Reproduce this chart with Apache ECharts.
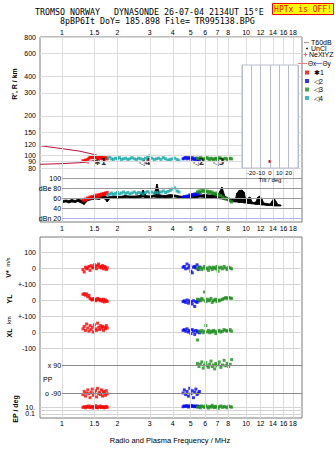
<!DOCTYPE html>
<html>
<head>
<meta charset="utf-8">
<title>Dynasonde ionogram</title>
<script src="https://cdn.jsdelivr.net/npm/echarts@6.0.0/dist/echarts.min.js"></script>
<style>
  html, body { margin: 0; padding: 0; background: #fff; }
  #chart { width: 335px; height: 451px; }
</style>
</head>
<body>
<div id="chart"></div>
<script>
// tick labels
const freqTicks = [1, 1.5, 2, 3, 4, 5, 6, 7, 8, 10, 12, 14, 16, 18];
const rangeTicks = [80, 90, 100, 120, 150, 200, 300, 400, 600, 800];
const ampTicks = [100, 80, 60, 40, 20];
const ampTickLabels = ['100', 'dBe 80', '60', '40', 'dBn 20'];
const ppTicks = [90, -90];
const ppTickLabels = ['x 90', 'o -90'];

// model curves (dark red)
const modelUpF = [0.76, 1.0, 1.25, 1.45, 1.6, 1.73];
const modelUpR = [118.4, 112.5, 107.5, 102.5, 99, 95.9];
const modelLoF = [0.76, 1.0, 1.25, 1.45, 1.6, 1.73];
const modelLoR = [85.4, 86.4, 87.8, 90.5, 93, 95.9];

// echo 1 (red)
const redF = [1.30, 1.32, 1.34, 1.36, 1.38, 1.40, 1.42, 1.44, 1.46, 1.48, 1.50, 1.52, 1.54, 1.56, 1.58, 1.60, 1.62, 1.64, 1.66, 1.68, 1.70, 1.72, 1.74, 1.76];
const redRange = [91, 90, 92, 91, 93, 95, 97, 96, 98, 96, 97, 98, 96, 95, 96, 97, 95, 97, 94, 96, 93, 95, 96, 94];
const redAmp = [56, 54, 58, 57, 60, 59, 62, 60, 63, 61, 64, 62, 66, 63, 65, 67, 64, 68, 66, 69, 67, 70, 68, 71];
const redVel = [-10, -25, 5, -5, 0, 10, -15, 15, 5, 0, 20, 10, -5, 15, 25, 5, 10, 0, 15, -5, 10, 5, -10, 0];
const redYL = [35, 40, 30, 38, 20, 28, 10, 5, 0, 8, 5, -5, 0, 10, 5, 0, -5, 3, -8, 5, -12, 0, -5, -10];
const redXL = [20, 35, 10, 50, 25, 5, 40, 15, 30, 0, 45, 20, 10, 55, 30, 15, 40, 25, 35, 10, 30, 20, 40, 25];
const redPP = [-100, -80, -110, -90, -70, -95, -120, -85, -65, -105, -90, -75, -115, -60, -95, -85, -100, -70, -110, -80, -90, -105, -75, -95];
const redEP = [8, 12, 6, 15, 9, 20, 7, 10, 14, 5, 11, 25, 8, 6, 13, 9, 18, 7, 10, 12, 6, 9, 15, 8];

// echo 4 (cyan)
const cyanF = [1.78, 1.82, 1.86, 1.90, 1.95, 2.00, 2.05, 2.10, 2.16, 2.22, 2.28, 2.34, 2.40, 2.47, 2.54, 2.61, 2.68, 2.76, 2.84, 2.92, 3.00, 3.08, 3.17, 3.26, 3.35, 3.45, 3.55, 3.65, 3.76, 3.87, 3.98, 4.10, 4.22, 4.32];
const cyanRange = [95, 98, 94, 93, 95, 94, 96, 93, 94, 95, 93, 94, 96, 94, 93, 95, 94, 93, 95, 97, 99, 95, 93, 94, 95, 93, 96, 94, 92, 93, 94, 95, 93, 91];
const cyanAmp = [66, 68, 70, 67, 69, 71, 68, 70, 72, 69, 71, 68, 70, 72, 69, 71, 70, 68, 71, 73, 70, 72, 69, 71, 70, 72, 74, 71, 73, 75, 78, 80, 74, 72];

// echo 2 (blue)
const blueF = [4.55, 4.62, 4.70, 4.78, 4.86, 4.94, 5.02, 5.10, 5.18, 5.26, 5.34, 5.42, 5.50, 5.58];
const blueRange = [94, 95, 97, 94, 96, 95, 93, 96, 94, 92, 95, 93, 94, 92];
const blueAmp = [61, 63, 62, 64, 63, 66, 65, 67, 66, 68, 67, 69, 68, 70];
const blueVel = [5, 10, -5, 25, 0, 15, -20, -30, 5, 10, 0, 20, -10, 5];
const blueYL = [-10, -5, -15, 0, -20, -5, -10, -25, -5, -40, -10, -15, -5, 0];
const blueXL = [10, 15, 5, 20, 0, 10, -10, 15, 5, -15, 10, 0, 5, -5];
const bluePP = [-90, -70, -100, -80, -110, -60, -95, -75, -120, -85, -65, -100, -90, -80];
const blueEP = [12, 20, 15, 25, 10, 18, 30, 14, 22, 12, 16, 20, 11, 15];

// echo 3 (green)
const greenF = [5.45, 5.55, 5.65, 5.75, 5.85, 5.95, 6.05, 6.15, 6.25, 6.35, 6.45, 6.55, 6.65, 6.75, 6.85, 6.95, 7.05, 7.15, 7.30, 7.45, 7.60, 7.75, 7.90, 8.05, 8.20, 8.35];
const greenRange = [95, 94, 96, 95, 93, 94, 95, 96, 94, 93, 95, 94, 92, 94, 95, 93, 94, 96, 95, 93, 94, 95, 93, 94, 95, 94];
const greenAmp = [72, 74, 71, 75, 73, 76, 72, 74, 71, 73, 70, 72, 69, 68, 70, 66, 67, 64, 65, 62, 60, 58, 59, 56, 54, 52];
const greenVel = [0, -5, 5, -10, 0, 10, -5, 0, -15, 5, 0, -10, 5, 0, -5, 10, -20, 0, 5, -5, 10, 0, -10, 5, 0, -5];
const greenYL = [5, 0, -5, 10, 0, 50, -10, 5, -5, 0, 10, -15, -5, 0, 5, -10, 0, -5, 0, 5, 10, 15, 10, 15, 12, 10];
const greenXL = [-50, 5, 0, 10, -5, 5, 40, 0, 10, -5, 5, 0, 10, 5, -10, 0, 5, 10, 0, 5, 15, 10, 5, 10, 15, 5];
const greenPP = [100, 80, 95, 110, 70, 90, 105, 85, 75, 95, 115, 80, 90, 65, 100, 85, 95, 110, 75, 90, 120, 85, 100, 80, 95, 125];
const greenEP = [10, 15, 6, 20, 12, 8, 25, 10, 5, 14, 9, 30, 11, 7, 16, 10, 4, 12, 20, 8, 15, 10, 6, 18, 12, 9];

// total amplitude (black band, low / high edge)
const ampF = [1.01, 1.05, 1.09, 1.13, 1.18, 1.22, 1.27, 1.32, 1.37, 1.42,
  1.47, 1.53, 1.59, 1.65, 1.71, 1.76, 1.82, 1.94, 2.07, 2.20,
  2.34, 2.49, 2.65, 2.76, 2.86, 3.01, 3.16, 3.28, 3.41, 3.63,
  3.86, 4.11, 4.37, 4.66, 4.96, 5.28, 5.62, 5.98, 6.37, 6.79,
  7.05, 7.40, 7.69, 7.98, 8.38, 8.73, 8.93, 9.17, 9.52, 9.76,
  10.0, 10.25, 10.5, 10.8, 11.0, 11.3, 11.6, 11.9, 12.2, 12.5,
  13.0, 13.5, 13.8, 14.2, 14.5, 14.9, 15.5];
const ampLo = [51, 52, 50, 52, 51, 53, 50, 47, 54, 56,
  57, 58, 57, 60, 58, 52, 59, 60, 59, 61,
  60, 59, 61, 62, 60, 61, 62, 61, 61, 60,
  61, 62, 60, 59, 61, 60, 62, 61, 59, 61,
  59, 58, 57, 55, 53, 52, 52, 51, 51, 50,
  50, 49, 49, 48, 48, 47, 47, 47, 46, 46,
  45, 45, 45, 44, 44, 44, 44];
const ampHi = [55, 56, 55, 57, 55, 58, 56, 55, 60, 62,
  63, 64, 63, 66, 64, 62, 63, 64, 63, 65,
  64, 64, 65, 76, 65, 64, 66, 88, 66, 65,
  67, 66, 64, 63, 65, 65, 66, 67, 66, 68,
  67, 82, 63, 61, 58, 57, 70, 75, 76, 72,
  55, 60, 62, 52, 51, 52, 62, 64, 58, 50,
  49, 48, 53, 60, 54, 47, 46];

// NeXtYZ point, echo tags, tilt
const nextF = [1.38];
const nextR = [88.6];
const markF = [1.61, 2.81, 5.52, 7.09];
const markR = [88.9, 88.9, 88.9, 88.9];
const markText = ['✱1', '◁4', '◁2', '◁3'];
const tiltDeg = [-0.5, -0.5];
const tiltR = [87.5, 92];

const FMIN = 0.759, FMAX = 20.15;
const FONT = '"Liberation Sans", Arial, sans-serif';
const MONO = '"DejaVu Sans Mono", monospace';
const RED = '#ff0000', BLUE = '#0000ff', GREEN = '#1e8c1e', CYAN = '#17a8a8';
const PINK = '#e0608a', MODEL = '#b4143c';
const GRIDC = '#dcdcdc', FRAME = '#7a7a7a';

const pts = (xs, ys) => xs.map((x, i) => [x, ys[i]]);

const sc = (name, color, ax, xs, ys) => ({
  name, type: 'scatter', xAxisIndex: ax, yAxisIndex: ax,
  data: pts(xs, ys), symbol: 'rect', symbolSize: 3,
  itemStyle: { color }, clip: false, silent: true, z: 3
});

const grid = (left, top, width, height, extra) => Object.assign(
  { left, top, width, height, containLabel: false, outerBoundsMode: 'none' }, extra || {});

const logX = g => ({ type: 'log', gridIndex: g, min: FMIN, max: FMAX, show: false });

const lowAxis = (g, labels) => ({
  type: 'value', gridIndex: g, min: -100, max: 100, interval: 100,
  axisLine: { show: false }, axisTick: { show: false },
  axisLabel: { fontSize: 7, margin: 4, color: '#000', formatter: v => labels[v] || '' },
  splitLine: { show: true, lineStyle: { color: '#d4d4d4', width: 1 } }
});

const mlBase = {
  silent: true, symbol: ['none', 'none'], animation: false, precision: 3,
  lineStyle: { color: GRIDC, width: 1, type: 'solid' },
  label: { fontSize: 7, color: '#000', fontFamily: FONT, formatter: '{b}' },
  emphasis: { disabled: true }
};

const vLines = (pos, dist) => freqTicks.map(f => ({
  xAxis: f, name: String(f),
  label: pos ? { show: true, position: pos, distance: dist } : { show: false }
}));

const hPairs = (vals, labels, colorOf) => vals.map((v, i) => [
  { coord: [1, v], name: labels[i], label: { position: 'start', distance: 1 }, lineStyle: { color: colorOf(v) } },
  { coord: [FMAX * 0.9999, v] }
]);

const txt = (text, x, y, o = {}) => ({
  type: 'text', x, y, rotation: o.rot || 0, silent: true,
  style: {
    text, fill: o.color || '#000', fontSize: o.size || 7, fontFamily: o.family || FONT,
    fontWeight: o.weight || 'normal', align: o.align || 'left', verticalAlign: 'middle',
    lineHeight: o.lh || undefined
  }
});

// black amplitude band: one quad per step between neighbouring samples
const ampBand = (params, api) => {
  const i = params.dataIndex;
  if (i >= ampF.length - 1) return null;
  const points = [
    api.coord([ampF[i], ampLo[i]]), api.coord([ampF[i + 1], ampLo[i + 1]]),
    api.coord([ampF[i + 1], ampHi[i + 1]]), api.coord([ampF[i], ampHi[i]])
  ];
  return { type: 'polygon', shape: { points }, style: { fill: '#000', stroke: '#000', lineWidth: 0.8 } };
};

const series = [
  // R' panel
  { name: 'model', type: 'line', xAxisIndex: 1, yAxisIndex: 1, data: pts(modelUpF, modelUpR),
    symbol: 'none', lineStyle: { color: MODEL, width: 1 }, silent: true, z: 2 },
  { name: 'model', type: 'line', xAxisIndex: 1, yAxisIndex: 1, data: pts(modelLoF, modelLoR),
    symbol: 'none', lineStyle: { color: MODEL, width: 1 }, silent: true, z: 2 },
  sc('✱1', RED, 1, redF, redRange),
  sc('◁4', CYAN, 1, cyanF, cyanRange),
  sc('◁2', BLUE, 1, blueF, blueRange),
  sc('◁3', GREEN, 1, greenF, greenRange),
  sc('NeXtYZ', PINK, 1, nextF, nextR),
  { name: 'tags', type: 'scatter', xAxisIndex: 1, yAxisIndex: 1,
    data: markF.map((f, i) => [f, markR[i], markText[i]]),
    symbol: 'rect', symbolSize: 1, itemStyle: { color: 'rgba(0,0,0,0)' }, silent: true, z: 4,
    label: { show: true, position: 'inside', formatter: p => p.data[2], color: '#000',
      fontSize: 8, fontWeight: 'bold', fontFamily: '"DejaVu Sans", sans-serif' } },
  { name: 'rGrid', type: 'line', xAxisIndex: 1, yAxisIndex: 1, data: [],
    markLine: Object.assign({}, mlBase, {
      data: [
        ...vLines('end', 1),
        ...rangeTicks.map(r => ({ yAxis: r, name: String(r), label: { position: 'start', distance: 4 } }))
      ]
    }) },

  // amplitude panel
  { name: 'amp', type: 'custom', coordinateSystem: 'cartesian2d', xAxisIndex: 2, yAxisIndex: 2,
    data: ampF.map((f, i) => [f, ampLo[i], ampHi[i]]), encode: { x: 0, y: [1, 2] },
    renderItem: ampBand, silent: true, clip: false, z: 2 },
  sc('✱1', RED, 2, redF, redAmp),
  sc('◁4', CYAN, 2, cyanF, cyanAmp),
  sc('◁2', BLUE, 2, blueF, blueAmp),
  sc('◁3', GREEN, 2, greenF, greenAmp),
  { name: 'aGrid', type: 'line', xAxisIndex: 2, yAxisIndex: 2, data: [],
    markLine: Object.assign({}, mlBase, {
      data: [
        ...vLines('start', 3),
        ...hPairs(ampTicks, ampTickLabels, v => v === 20 ? '#aeb2e6' : '#9a9a9a')
      ]
    }) },

  // lower panel frame lines
  { name: 'lGrid', type: 'line', xAxisIndex: 3, yAxisIndex: 3, data: [],
    markLine: Object.assign({}, mlBase, { data: vLines('start', 2) }) },

  // V*, YL, XL, PP, EP
  sc('✱1', RED, 4, redF, redVel), sc('◁2', BLUE, 4, blueF, blueVel), sc('◁3', GREEN, 4, greenF, greenVel),
  sc('✱1', RED, 5, redF, redYL), sc('◁2', BLUE, 5, blueF, blueYL), sc('◁3', GREEN, 5, greenF, greenYL),
  sc('✱1', RED, 6, redF, redXL), sc('◁2', BLUE, 6, blueF, blueXL), sc('◁3', GREEN, 6, greenF, greenXL),
  sc('✱1', RED, 7, redF, redPP), sc('◁2', BLUE, 7, blueF, bluePP), sc('◁3', GREEN, 7, greenF, greenPP),
  sc('✱1', RED, 8, redF, redEP), sc('◁2', BLUE, 8, blueF, blueEP), sc('◁3', GREEN, 8, greenF, greenEP),
  { name: 'ppGrid', type: 'line', xAxisIndex: 7, yAxisIndex: 7, data: [],
    markLine: Object.assign({}, mlBase, { data: hPairs(ppTicks, ppTickLabels, () => '#8a8a8a') }) },

  // tilt inset
  { name: 'tilt', type: 'line', xAxisIndex: 9, yAxisIndex: 9, data: pts(tiltDeg, tiltR),
    symbol: 'none', lineStyle: { color: RED, width: 2 }, silent: true, z: 12 }
];

const option = {
  animation: false,
  backgroundColor: '#fff',
  textStyle: { fontFamily: FONT },
  grid: [
    grid(40, 37, 262, 185, { show: true, borderColor: FRAME, borderWidth: 1 }),
    grid(40, 37, 262, 141),
    grid(40, 178, 262, 44),
    grid(40, 237, 262, 181, { show: true, borderColor: FRAME, borderWidth: 1 }),
    grid(40, 252, 262, 32),
    grid(40, 284, 262, 32),
    grid(40, 316, 262, 32),
    grid(40, 365, 262, 28),
    grid(40, 405, 262, 11),
    grid(242, 65, 56, 103, { show: true, backgroundColor: '#fff', borderColor: '#b8bcd0', borderWidth: 1, z: 10 })
  ],
  xAxis: [
    { type: 'value', gridIndex: 0, min: 0, max: 1, show: false },
    logX(1), logX(2), logX(3), logX(4), logX(5), logX(6), logX(7), logX(8),
    { type: 'value', gridIndex: 9, min: -30, max: 30, interval: 10, z: 11,
      axisLine: { show: false }, axisTick: { show: false },
      axisLabel: { fontSize: 6, margin: 2, color: '#000', formatter: v => Math.abs(v) === 30 ? '' : String(v) },
      splitLine: { show: true, lineStyle: { color: '#b8bcd0', width: 1 } },
      name: 'Tilt / deg', nameLocation: 'middle', nameGap: 8,
      nameTextStyle: { fontSize: 6, color: '#000' } }
  ],
  yAxis: [
    { type: 'value', gridIndex: 0, min: 0, max: 1, show: false },
    { type: 'log', gridIndex: 1, min: 67.1, max: 801, show: false },
    { type: 'value', gridIndex: 2, min: 12, max: 100, show: false },
    { type: 'value', gridIndex: 3, min: 0, max: 1, show: false },
    lowAxis(4, { '100': '100', '0': '0', '-100': '+-100' }),
    lowAxis(5, { '0': '0', '-100': '+-100' }),
    lowAxis(6, { '0': '0', '-100': '-100' }),
    { type: 'value', gridIndex: 7, min: -90, max: 90, show: false },
    { type: 'log', gridIndex: 8, min: 0.0268, max: 37.3,
      axisLine: { show: false }, axisTick: { show: false },
      axisLabel: { fontSize: 7, margin: 5, color: '#000',
        formatter: v => Math.abs(v - 10) < 1e-6 ? '10.' : (Math.abs(v - 0.1) < 1e-9 ? '0.1' : '') },
      splitLine: { show: true, showMinLine: false, showMaxLine: false, lineStyle: { color: '#d4d4d4', width: 1 } } },
    { type: 'log', gridIndex: 9, min: 80, max: 489, show: false }
  ],
  legend: {
    data: ['✱1', '◁2', '◁3', '◁4'],
    orient: 'vertical', left: 305, top: 69, padding: 0,
    icon: 'rect', itemWidth: 4, itemHeight: 4, itemGap: 1.5, itemTextGap: 2,
    selectedMode: false,
    textStyle: { fontSize: 7, color: '#000', fontFamily: FONT }
  },
  graphic: [
    txt('TROMSO NORWAY', 35, 12, { family: MONO, size: 8.3, lh: 8 }),
    txt('DYNASONDE 26-07-04 2134UT 15°E', 114, 12, { family: MONO, size: 8.3, lh: 8 }),
    txt('8pBP6It DoY= 185.898 File= TR995138.BPG', 60, 20.5, { family: MONO, size: 8.3, lh: 8 }),
    { type: 'rect', silent: true, shape: { x: 272.5, y: 3.5, width: 61, height: 11 },
      style: { fill: '#ffff00', stroke: '#ff0000', lineWidth: 1 } },
    txt('HPTx is OFF!', 303, 9, { family: MONO, size: 8, color: '#ff0000', align: 'center', lh: 8 }),

    txt("R', R / km", 14.5, 84, { rot: Math.PI / 2, weight: 'bold', align: 'center' }),
    txt('V*', 8, 274, { rot: Math.PI / 2, weight: 'bold', align: 'center' }),
    txt('m/s', 8, 262, { rot: Math.PI / 2, size: 5.5, align: 'center' }),
    txt('YL', 9, 299, { rot: Math.PI / 2, weight: 'bold', align: 'center' }),
    txt('km', 9, 320, { rot: Math.PI / 2, size: 5.5, align: 'center' }),
    txt('XL', 9, 333, { rot: Math.PI / 2, weight: 'bold', align: 'center' }),
    txt('EP / deg', 15, 409, { rot: Math.PI / 2, weight: 'bold', align: 'center' }),
    txt('PP', 43, 379),
    txt('Radio and Plasma Frequency / MHz', 170, 440, { size: 7.5, align: 'center' }),

    // key for overlays (top right)
    { type: 'line', silent: true, shape: { x1: 304, y1: 42.5, x2: 309, y2: 42.5 }, style: { stroke: '#a0a0a0', lineWidth: 1 } },
    txt('T60dB', 311, 42),
    { type: 'circle', silent: true, shape: { cx: 307, cy: 48.5, r: 0.8 }, style: { fill: '#000' } },
    txt('UnCl', 311, 48.5),
    { type: 'line', silent: true, shape: { x1: 303.5, y1: 54.5, x2: 307.5, y2: 54.5 }, style: { stroke: PINK, lineWidth: 1 } },
    { type: 'line', silent: true, shape: { x1: 305.5, y1: 52.5, x2: 305.5, y2: 56.5 }, style: { stroke: PINK, lineWidth: 1 } },
    txt('NeXtYZ', 309, 54.5),
    { type: 'line', silent: true, shape: { x1: 298, y1: 63.5, x2: 307, y2: 63.5 }, style: { stroke: '#f08080', lineWidth: 1 } },
    txt('Θx', 308, 63.5, { size: 6.5 }),
    { type: 'line', silent: true, shape: { x1: 316, y1: 63.5, x2: 322, y2: 63.5 }, style: { stroke: '#8080f0', lineWidth: 1 } },
    txt('Θy', 322.5, 63.5, { size: 6.5 })
  ],
  series
};

const chart = echarts.init(document.getElementById('chart'), null, { renderer: 'svg' });
chart.setOption(option);
</script>
</body>
</html>
